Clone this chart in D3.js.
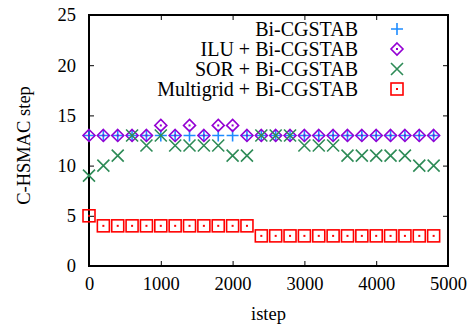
<!DOCTYPE html>
<html>
<head>
<meta charset="utf-8">
<script src="https://cdn.jsdelivr.net/npm/d3@7"></script>
<style>
  html, body { margin: 0; padding: 0; background: #fff; }
  svg { display: block; font-family: "Liberation Serif", "DejaVu Serif", serif; }
</style>
</head>
<body>
<svg id="chart" width="475" height="330"></svg>
<script>
// Time steps sampled every 200 iterations
const isteps = [0, 200, 400, 600, 800, 1000, 1200, 1400, 1600, 1800, 2000, 2200,
                2400, 2600, 2800, 3000, 3200, 3400, 3600, 3800, 4000, 4200, 4400, 4600, 4800];

// C-HSMAC step counts per solver
const biCgstab   = [13,13,13,13,13,13,13,13,13,13,13,13,13,13,13,13,13,13,13,13,13,13,13,13,13];
const iluBi      = [13,13,13,13,13,14,13,14,13,14,14,13,13,13,13,13,13,13,13,13,13,13,13,13,13];
const sorBi      = [9,10,11,13,12,13,12,12,12,12,11,11,13,13,13,12,12,12,11,11,11,11,11,10,10];
const multigridBi= [5,4,4,4,4,4,4,4,4,4,4,4,3,3,3,3,3,3,3,3,3,3,3,3,3];

const seriesNames = ["Bi-CGSTAB", "ILU + Bi-CGSTAB", "SOR + Bi-CGSTAB", "Multigrid + Bi-CGSTAB"];
const xTicks = [0, 1000, 2000, 3000, 4000, 5000];
const yTicks = [0, 5, 10, 15, 20, 25];

const series = [
  { name: seriesNames[0], values: biCgstab,    color: "#1e8cff", symbol: "plus" },
  { name: seriesNames[1], values: iluBi,       color: "#9400d3", symbol: "diamond" },
  { name: seriesNames[2], values: sorBi,       color: "#2e8b57", symbol: "cross" },
  { name: seriesNames[3], values: multigridBi, color: "#ff0000", symbol: "square" }
];

const svg = d3.select("#chart");
const margin = { left: 89, right: 27, top: 15, bottom: 64 };
const W = 475, H = 330;

const x = d3.scaleLinear().domain([0, 5000]).range([margin.left, W - margin.right]);
const y = d3.scaleLinear().domain([0, 25]).range([H - margin.bottom, margin.top]);

const tickLen = 5;
const fontSize = 18.5;

// Tick marks on all four sides (pointing inward)
const axes = svg.append("g");
axes.append("g")
  .attr("transform", `translate(0,${y(0)})`)
  .call(d3.axisBottom(x).tickValues(xTicks).tickSize(-tickLen).tickPadding(11).tickFormat(d3.format("d")));
axes.append("g")
  .attr("transform", `translate(0,${y(25)})`)
  .call(d3.axisTop(x).tickValues(xTicks).tickSize(-tickLen).tickFormat(""));
axes.append("g")
  .attr("transform", `translate(${x(0)},0)`)
  .call(d3.axisLeft(y).tickValues(yTicks).tickSize(-tickLen).tickPadding(13));
axes.append("g")
  .attr("transform", `translate(${x(5000)},0)`)
  .call(d3.axisRight(y).tickValues(yTicks).tickSize(-tickLen).tickFormat(""));

axes.selectAll(".domain").remove();
axes.selectAll(".tick line").attr("stroke", "#000").attr("stroke-width", 1);
axes.selectAll(".tick text")
  .attr("font-family", "Liberation Serif, serif")
  .attr("font-size", fontSize)
  .attr("fill", "#000");

// Border
svg.append("rect")
  .attr("x", x(0)).attr("y", y(25))
  .attr("width", x(5000) - x(0)).attr("height", y(0) - y(25))
  .attr("fill", "none").attr("stroke", "#000").attr("stroke-width", 2);

// Axis titles
svg.append("text")
  .attr("x", (x(0) + x(5000)) / 2).attr("y", 320)
  .attr("text-anchor", "middle").attr("font-size", fontSize)
  .text("istep");
svg.append("text")
  .attr("transform", `translate(30,${(y(0) + y(25)) / 2 + 5}) rotate(-90)`)
  .attr("text-anchor", "middle").attr("font-size", fontSize)
  .text("C-HSMAC step");

// Point symbols
function drawSymbol(g, type, color) {
  if (type === "plus") {
    g.append("path").attr("d", "M-6,0H6M0,-6V6")
      .attr("stroke", color).attr("stroke-width", 1.6).attr("fill", "none");
  } else if (type === "diamond") {
    g.append("path").attr("d", "M0,-6L6,0L0,6L-6,0Z")
      .attr("stroke", color).attr("stroke-width", 1.6).attr("fill", "none");
    g.append("rect").attr("x", -1).attr("y", -1).attr("width", 2).attr("height", 2).attr("fill", color);
  } else if (type === "cross") {
    g.append("path").attr("d", "M-6,-6L6,6M-6,6L6,-6")
      .attr("stroke", color).attr("stroke-width", 1.6).attr("fill", "none");
  } else if (type === "square") {
    g.append("rect").attr("x", -6).attr("y", -6).attr("width", 12).attr("height", 12)
      .attr("stroke", color).attr("stroke-width", 1.6).attr("fill", "none");
    g.append("rect").attr("x", -1).attr("y", -1).attr("width", 2).attr("height", 2).attr("fill", color);
  }
}

const plot = svg.append("g");
series.forEach(s => {
  const g = plot.append("g");
  s.values.forEach((v, i) => {
    const p = g.append("g").attr("transform", `translate(${x(isteps[i])},${y(v)})`);
    drawSymbol(p, s.symbol, s.color);
  });
});

// Legend
const legend = svg.append("g");
const legendRows = [29, 49, 69, 89];
series.forEach((s, i) => {
  legend.append("text")
    .attr("x", 358).attr("y", legendRows[i]).attr("dy", "0.35em")
    .attr("text-anchor", "end").attr("font-size", 20)
    .text(s.name);
  drawSymbol(legend.append("g").attr("transform", `translate(397,${legendRows[i]})`), s.symbol, s.color);
});
</script>
</body>
</html>
